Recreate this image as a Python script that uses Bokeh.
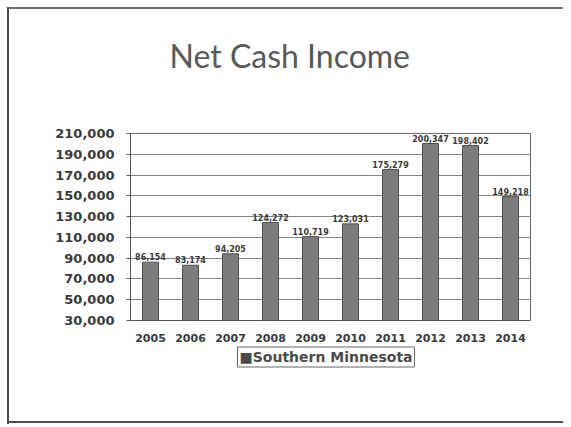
from bokeh.plotting import figure
from bokeh.models import (ColumnDataSource, FactorRange, Range1d,
                          FixedTicker, NumeralTickFormatter, Title)
from bokeh.core.properties import value
from bokeh.embed import file_html
from bokeh.resources import INLINE

years = ["2005", "2006", "2007", "2008", "2009", "2010", "2011", "2012", "2013", "2014"]
income = [86154, 83174, 94205, 124272, 110719, 123031, 175279, 200347, 198402, 149218]
income_labels = ["86,154", "83,174", "94,205", "124,272", "110,719", "123,031",
                 "175,279", "200,347", "198,402", "149,218"]
y_ticks = [30000, 50000, 70000, 90000, 110000, 130000, 150000, 170000, 190000, 210000]
series_name = "Southern Minnesota"
title_text = "Net Cash Income"

src = ColumnDataSource(dict(year=years, income=income, lab=income_labels))

p = figure(x_range=FactorRange(*years), y_range=Range1d(30000, 210000), title=None,
           frame_width=400, frame_height=187, output_backend="svg", toolbar_location=None,
           min_border_left=130, min_border_right=33, min_border_top=133, min_border_bottom=105)

p.styles = {
    "background-image": "linear-gradient(#4e4e4e,#4e4e4e), linear-gradient(#4e4e4e,#4e4e4e), linear-gradient(#6e6e6e,#6e6e6e)",
    "background-repeat": "no-repeat",
    "background-size": "2px calc(100% - 8px), 100% 2px, 100% 2px",
    "background-position": "7px 7px, left 7px bottom 2px, 7px 7px",
}
p.border_fill_alpha = 0

# spacer between frame and title (nearest to frame), then the title itself
p.add_layout(Title(text=" ", text_font_size="10px", standoff=41), "above")
p.add_layout(Title(text=title_text, align="left", offset=39, standoff=10,
                   text_font="Lato", text_font_size="32px", text_font_style="normal",
                   text_color="#595959"), "above")

bars = p.vbar(x="year", top="income", bottom=30000, width=0.4, source=src,
              fill_color="#7c7c7c", line_color="#4f4f4f", line_width=1)

p.text(x="year", y="income", text="lab", source=src, text_align="center",
       text_baseline="bottom", y_offset=-2, text_font=value("DejaVu Sans"),
       text_font_size="8px", text_font_style="bold", text_color="#3a3a3a")

p.outline_line_color = "#6a6a6a"
p.outline_line_width = 1
p.background_fill_color = "white"

p.xgrid.grid_line_color = None
p.ygrid.grid_line_color = "#858585"
p.ygrid.grid_line_width = 1

p.yaxis.ticker = FixedTicker(ticks=y_ticks)
p.yaxis.formatter = NumeralTickFormatter(format="0,0")
p.yaxis.major_label_text_font = "DejaVu Sans"
p.yaxis.major_label_text_font_size = "13px"
p.yaxis.major_label_text_font_style = "bold"
p.yaxis.major_label_text_color = "#3a3a3a"
p.yaxis.major_tick_out = 4
p.yaxis.major_tick_in = 0
p.yaxis.minor_tick_out = 0
p.yaxis.minor_tick_in = 0
p.yaxis.major_label_standoff = 12
p.yaxis.axis_line_color = "#555555"
p.yaxis.major_tick_line_color = "#555555"

p.xaxis.major_label_text_font = "DejaVu Sans"
p.xaxis.major_label_text_font_size = "11px"
p.xaxis.major_label_text_font_style = "bold"
p.xaxis.major_label_text_color = "#3a3a3a"
p.xaxis.major_tick_line_color = None
p.xaxis.major_label_standoff = 7
p.xaxis.axis_line_color = "#555555"

# legend box (series key) below the axis
p.add_layout(Title(text="\u25a0" + series_name, align="left", offset=107, standoff=1,
                   text_font="DejaVu Sans", text_font_size="14px", text_font_style="bold",
                   text_color="#4a4a4a", padding=2,
                   border_line_color="#666666", border_line_width=1,
                   background_fill_color="white"), "below")

open("out.html", "w").write(file_html(p, INLINE))
